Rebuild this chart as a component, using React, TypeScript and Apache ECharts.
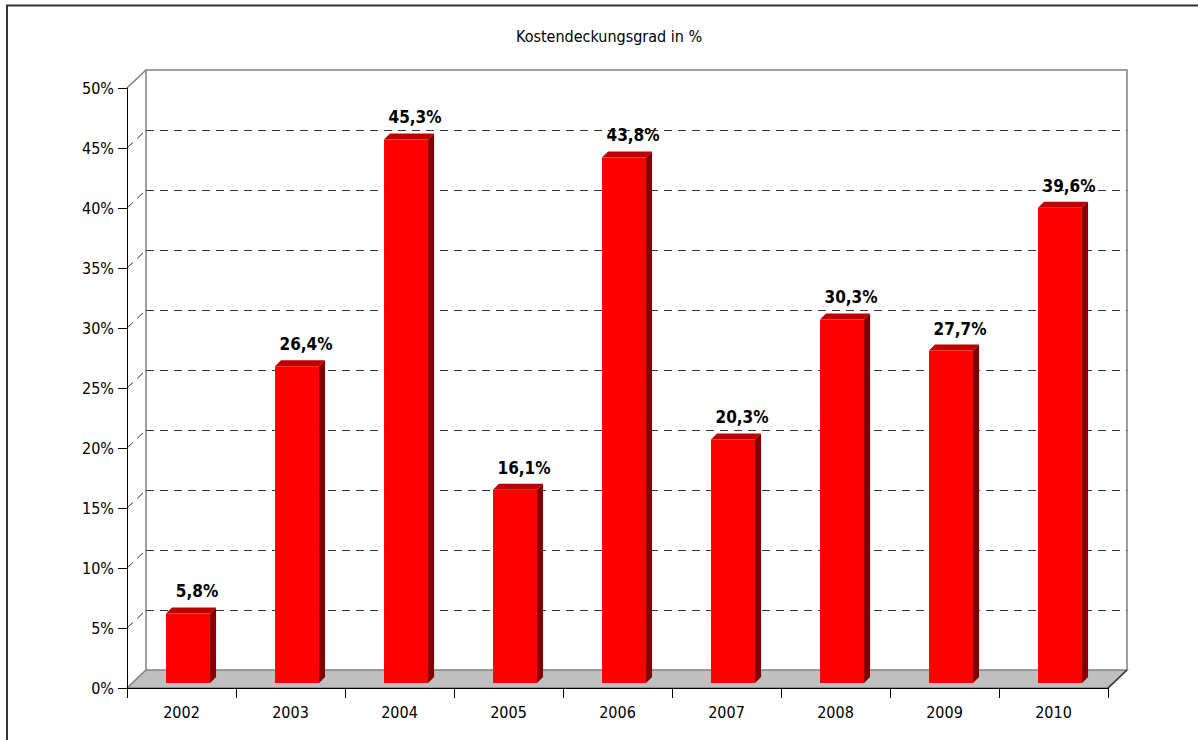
import React, { useEffect, useRef } from "react";
import * as echarts from "echarts";

const years = ["2002", "2003", "2004", "2005", "2006", "2007", "2008", "2009", "2010"];
const values = [5.8, 26.4, 45.3, 16.1, 43.8, 20.3, 30.3, 27.7, 39.6];
const yTicks = [5, 10, 15, 20, 25, 30, 35, 40, 45];
const titleText = "Kostendeckungsgrad in %";

const FONT = "Tahoma, 'DejaVu Sans Condensed', 'Liberation Sans', sans-serif";
const DX = 19;
const DY = 18;

export default function App() {
  const ref = useRef<HTMLDivElement>(null);
  useEffect(() => {
    if (!ref.current) return;
    const chart = echarts.init(ref.current, undefined, { renderer: "svg" });

    const wallsRender = (params: any, api: any) => {
      const cs = params.coordSys;
      const L = cs.x, T = cs.y, R = cs.x + cs.width, B = cs.y + cs.height;
      const children: any[] = [];
      children.push({
        type: "polygon",
        shape: { points: [[L, B], [R, B], [R + DX, B - DY], [L + DX, B - DY]] },
        style: { fill: "#c0c0c0", stroke: "#808080", lineWidth: 1.5 },
      });
      children.push({
        type: "line",
        shape: { x1: R, y1: B, x2: R + DX, y2: B - DY },
        style: { stroke: "#333", lineWidth: 1.5 },
      });
      children.push({
        type: "polyline",
        shape: { points: [[L + DX, B - DY], [L + DX, T - DY], [R + DX, T - DY], [R + DX, B - DY]] },
        style: { fill: "none", stroke: "#808080", lineWidth: 1.5 },
      });
      children.push({
        type: "line",
        shape: { x1: L, y1: T, x2: L + DX, y2: T - DY },
        style: { stroke: "#808080", lineWidth: 1.5 },
      });
      yTicks.forEach((t) => {
        const y = api.coord([0, t])[1];
        children.push({
          type: "line",
          shape: { x1: L + DX, y1: y - DY + 0.5, x2: R + DX, y2: y - DY + 0.5 },
          style: { stroke: "#333", lineWidth: 1, lineDash: [8, 6] },
        });
        children.push({
          type: "line",
          shape: { x1: L, y1: y, x2: L + DX, y2: y - DY },
          style: { stroke: "#333", lineWidth: 1, lineDash: [8, 6] },
        });
      });
      return { type: "group", children };
    };

    const barRender = (params: any, api: any) => {
      const i = api.value(0);
      const v = api.value(1);
      const p0 = api.coord([i, 0]);
      const p1 = api.coord([i, v]);
      const band = api.size([1, 0])[0];
      const w = band * 0.404;
      const shift = 5;
      const d = 6;
      const cx = p0[0] + band * 0.06;
      const xl = cx - w / 2;
      const xr = cx + w / 2;
      const yb = p0[1] - shift;
      const yt = p1[1] - shift;
      const label = v.toFixed(1).replace(".", ",") + "%";
      return {
        type: "group",
        children: [
          {
            type: "polygon",
            shape: { points: [[xr, yt], [xr + d, yt - d], [xr + d, yb - d], [xr, yb]] },
            style: { fill: "#800000" },
          },
          {
            type: "polygon",
            shape: { points: [[xl, yt], [xr, yt], [xr + d, yt - d], [xl + d, yt - d]] },
            style: { fill: "#bf0000" },
          },
          {
            type: "rect",
            shape: { x: xl, y: yt, width: w, height: yb - yt },
            style: { fill: "#ff0000" },
          },
          {
            type: "text",
            x: cx + 9,
            y: yt - 22,
            style: {
              text: label,
              textAlign: "center",
              textVerticalAlign: "middle",
              font: "bold 17px " + FONT,
              fill: "#000",
            },
          },
        ],
      };
    };

    chart.setOption({
      animation: false,
      backgroundColor: "#fff",
      title: {
        text: titleText,
        left: 511,
        top: 23,
        textStyle: { fontFamily: FONT, fontSize: 16, fontWeight: "normal", color: "#000" },
      },
      graphic: [
        {
          type: "polyline",
          shape: { points: [[7, 740], [7, 5.5], [1198, 5.5]] },
          style: { fill: "none", stroke: "#333", lineWidth: 2 },
        },
      ],
      grid: { left: 127, top: 88, right: 90, bottom: 52 },
      xAxis: {
        type: "category",
        data: years,
        z: 10,
        axisLine: { lineStyle: { color: "#000", width: 1 } },
        axisTick: { show: true, length: 10, lineStyle: { color: "#000" } },
        axisLabel: { margin: 16, fontFamily: FONT, fontSize: 16, color: "#000" },
        splitLine: { show: false },
      },
      yAxis: {
        type: "value",
        min: 0,
        max: 50,
        interval: 5,
        z: 10,
        axisLine: { show: true, lineStyle: { color: "#000", width: 1 } },
        axisTick: { show: true, length: 9, lineStyle: { color: "#000" } },
        axisLabel: { margin: 13, fontFamily: FONT, fontSize: 16, color: "#000", formatter: "{value}%" },
        splitLine: { show: false },
      },
      series: [
        {
          type: "custom",
          renderItem: wallsRender,
          data: [[0, 0]],
          z: 1,
          silent: true,
        },
        {
          type: "custom",
          renderItem: barRender,
          data: values.map((v, i) => [i, v]),
          z: 5,
        },
      ],
    });
    return () => chart.dispose();
  }, []);
  return <div ref={ref} style={{ position: "absolute", left: 0, top: 0, width: 1198, height: 740 }} />;
}
